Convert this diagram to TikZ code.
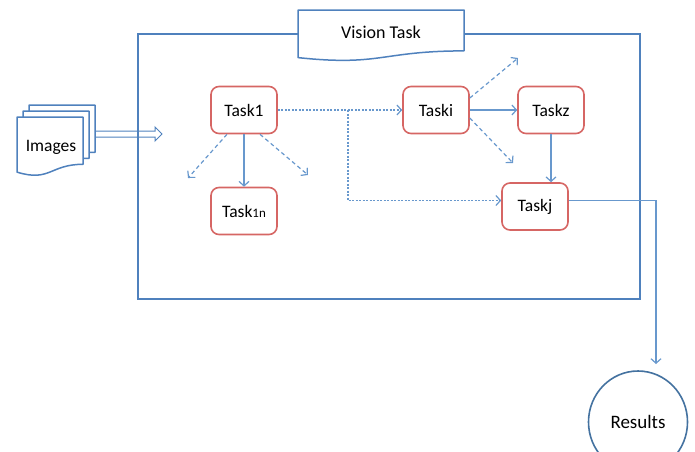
\documentclass[tikz,border=0pt]{standalone}
\usepackage{fontspec}
\setmainfont{Carlito}
\usetikzlibrary{arrows.meta,shapes.geometric}
\definecolor{frameblue}{RGB}{79,129,189}
\definecolor{arrowblue}{RGB}{104,152,205}
\definecolor{taskred}{RGB}{214,102,100}
\definecolor{resblue}{RGB}{68,114,160}
\tikzset{
  taskbox/.style={draw=taskred, line width=1.6pt, rounded corners=8pt, fill=white,
    minimum width=66pt, minimum height=47pt, inner sep=0pt,
    font=\fontsize{17.5}{17.5}\selectfont},
  docshape/.style={draw=frameblue, line width=1.5pt, fill=white, line join=round},
  solidarr/.style={draw=arrowblue, line width=1.2pt, -{Straight Barb[length=4.5pt,width=10pt]}},
  dasharr/.style={solidarr, dash pattern=on 4pt off 3pt},
  dotarr/.style={solidarr, dash pattern=on 2pt off 1.5pt},
}
\begin{document}
\begin{tikzpicture}[x=1pt,y=-1pt]
\clip (0,0) rectangle (695,451);
\useasboundingbox (0,0) rectangle (695,451);

% outer frame of the vision task
\draw[frameblue, line width=2pt] (138,34) rectangle (640,299);

% title document
\draw[docshape] (298,10) -- (464,10) -- (464,50.9) .. controls (381,50.9) and (381,66.5) .. (298,57.6) -- cycle;
\node[font=\fontsize{18}{18}\selectfont] (title) at (381,32) {Vision Task};

% stack of image documents
\draw[docshape] (29,105) -- (95,105) -- (95,152.3) .. controls (62,152.3) and (62,170.3) .. (29,160.1) -- cycle;
\draw[docshape] (23,111) -- (89,111) -- (89,158.3) .. controls (56,158.3) and (56,176.3) .. (23,166.1) -- cycle;
\draw[docshape] (17,117) -- (83,117) -- (83,164.3) .. controls (50,164.3) and (50,182.3) .. (17,172.1) -- cycle;
\node[font=\fontsize{17.5}{17.5}\selectfont] (images) at (51,147) {Images};

% hollow input arrow
\draw[frameblue, line width=1pt, line join=miter]
  (96,131) -- (155,131) -- (155,127) -- (162,134) -- (155,141) -- (155,137) -- (96,137);

% task nodes
\node[taskbox] (t1)  at (244,110) {Task1};
\node[taskbox] (t1n) at (244,211) {Task{\fontsize{13}{13}\selectfont 1n}};
\node[taskbox] (ti)  at (436,110) {Taski};
\node[taskbox] (tz)  at (551,110) {Taskz};
\node[taskbox] (tj)  at (535,206.5) {Taskj};
\node[ellipse, draw=resblue, line width=1.6pt, minimum width=99pt, minimum height=102pt,
      inner sep=0pt, font=\fontsize{19}{19}\selectfont] (res) at (638,422) {Results};

% free ends of the open-ended arrows
\coordinate (d1) at (188,178);
\coordinate (d2) at (308,175);
\coordinate (d3) at (518,58);
\coordinate (d4) at (513,163);
\coordinate (br) at (348,110);
\coordinate (rin) at (656,364);

% connectors
\draw[solidarr] (t1) -- (t1n);
\draw[dasharr] ([xshift=-17pt]t1.south) -- (d1);
\draw[dasharr] ([xshift=16pt]t1.south) -- (d2);
\draw[dotarr] (t1) -- (ti);
\draw[dotarr] (br) |- ([yshift=6pt]tj.west);
\draw[solidarr] (ti) -- (tz);
\draw[dasharr] ([yshift=12pt]ti.east) -- (d3);
\draw[dasharr] ([yshift=-8pt]ti.east) -- (d4);
\draw[solidarr] (tz) -- (tz |- tj.north);
\draw[solidarr] ([yshift=6pt]tj.east) -| (rin);
\end{tikzpicture}
\end{document}
